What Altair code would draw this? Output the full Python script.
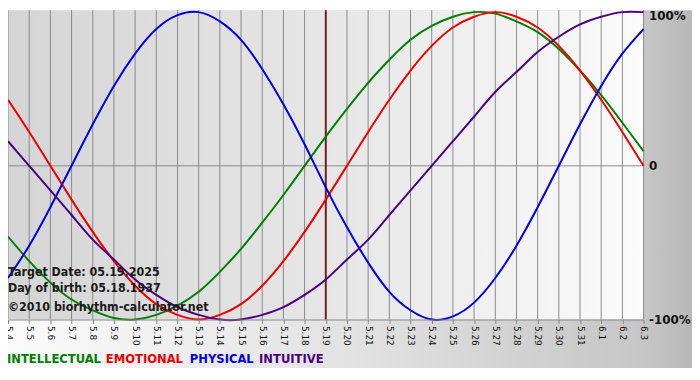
import altair as alt
import pandas as pd

# ---- data ----
dates = ["5.4", "5.5", "5.6", "5.7", "5.8", "5.9", "5.10", "5.11", "5.12", "5.13",
         "5.14", "5.15", "5.16", "5.17", "5.18", "5.19", "5.20", "5.21", "5.22", "5.23",
         "5.24", "5.25", "5.26", "5.27", "5.28", "5.29", "5.30", "5.31", "6.1", "6.2", "6.3"]

intellectual = [-46, -62, -76, -87, -94, -99, -100, -97, -91, -82,
                -69, -54, -37, -19, 0, 19, 37, 54, 69, 82,
                91, 97, 100, 99, 94, 87, 76, 62, 46, 28, 9.5]
emotional = [43, 22, 0, -22, -43, -62, -78, -90, -97, -100,
             -97, -90, -78, -62, -43, -22, 0, 22, 43, 62,
             78, 90, 97, 100, 97, 90, 78, 62, 43, 22, 0]
physical = [-73, -52, -27, 0, 27, 52, 73, 89, 98, 100,
            94, 82, 63, 40, 14, -14, -40, -63, -82, -94,
            -100, -98, -89, -73, -52, -27, 0, 27, 52, 73, 89]
intuitive = [16, 0, -16, -32, -48, -61, -74, -84, -92, -97,
             -100, -100, -97, -92, -84, -74, -61, -48, -32, -16,
             0, 16, 32, 48, 61, 74, 84, 92, 97, 100, 100]

series_names = ["INTELLECTUAL", "EMOTIONAL", "PHYSICAL", "INTUITIVE"]
series_colors = ["#008000", "#ee0000", "#0000dd", "#4b0082"]
target_label = "5.19"
y_ticks = [-100, 0, 100]

# ---- build tables ----
rows = []
for name, vals in zip(series_names, [intellectual, emotional, physical, intuitive]):
    for i, v in enumerate(vals):
        rows.append({"day": i, "value": v, "series": name})
df = pd.DataFrame(rows)
grid_df = pd.DataFrame({"day": list(range(len(dates)))})
one = pd.DataFrame({"k": [0]})

W, H = 643, 311
TOP = 2
FONT = "DejaVu Sans Condensed, DejaVu Sans"

label_expr = "[" + ",".join("'" + d + "'" for d in dates) + "][datum.value]"

xscale = alt.Scale(domain=[0, len(dates) - 1], nice=False, zero=False)
yscale = alt.Scale(domain=[-100, 100], nice=False, zero=False)

def x_axis():
    return alt.Axis(values=list(range(len(dates))), labelExpr=label_expr, labelAngle=90,
                    labelFontSize=9, labelFont="DejaVu Sans", labelColor="#111111",
                    tickColor="#888888", tickSize=4, domainColor="#888888", grid=False,
                    title=None, labelPadding=2, zindex=1, labelOverlap=False,
                    labelFlush=False, labelBound=False)

y_axis = alt.Axis(values=y_ticks, orient="right",
                  labelExpr="datum.value == 100 ? '100%' : (datum.value == 0 ? '0' : '-100%')",
                  labelFont="DejaVu Sans", labelFontWeight="bold", labelFontSize=12,
                  labelColor="#111111", ticks=False, domain=False, grid=False,
                  labelBaseline=alt.condition("datum.value == 100", alt.value("top"), alt.value("middle")),
                  labelOffset=alt.condition("datum.value == 100", alt.value(-2), alt.value(0)),
                  title=None, labelPadding=5, zindex=1, labelOverlap=False)

outer_bg = alt.Chart(one).mark_rect(
    fill=alt.Gradient(gradient="linear", x1=0, x2=1, y1=0, y2=0,
                      stops=[alt.GradientStop(color="#fbfbfb", offset=0),
                             alt.GradientStop(color="#e2e2e2", offset=0.5),
                             alt.GradientStop(color="#c6c6c6", offset=0.93),
                             alt.GradientStop(color="#b8b8b8", offset=1)])
).encode(x=alt.value(0), x2=alt.value(W + 49), y=alt.value(-TOP), y2=alt.value(H + 49))

plot_bg = alt.Chart(one).mark_rect(
    fill=alt.Gradient(gradient="linear", x1=0, x2=1, y1=0, y2=0,
                      stops=[alt.GradientStop(color="#d5d5d5", offset=0),
                             alt.GradientStop(color="#e6e6e6", offset=0.5),
                             alt.GradientStop(color="#fbfbfb", offset=1)])
).encode(x=alt.value(0), x2=alt.value(W), y=alt.value(-TOP), y2=alt.value(H))

vgrid = alt.Chart(grid_df).mark_rule(color="#8a8a8a", strokeWidth=1).encode(
    x=alt.X("day:Q", scale=xscale, axis=x_axis()),
    y=alt.value(-TOP), y2=alt.value(H))

zero_line = alt.Chart(one).mark_rule(color="#8a8a8a", strokeWidth=1).encode(
    y=alt.datum(0, scale=yscale, axis=y_axis))

target = alt.Chart(one).mark_rule(color="#7a1e1e", strokeWidth=2).encode(
    x=alt.datum(dates.index(target_label), axis=x_axis()),
    y=alt.value(-TOP), y2=alt.value(H))

lines = alt.Chart(df).mark_line(strokeWidth=2, interpolate="natural").encode(
    x=alt.X("day:Q", axis=x_axis()),
    y=alt.Y("value:Q", axis=y_axis),
    color=alt.Color("series:N", scale=alt.Scale(domain=series_names, range=series_colors),
                    legend=None),
)

def txt(s, x, y, size, color="#1a1a1a"):
    return alt.Chart(one).mark_text(align="left", baseline="middle", font=FONT,
                                    fontWeight="bold", fontSize=size, color=color).encode(
        x=alt.value(x), y=alt.value(y), text=alt.value(s))

annotations = [
    txt("Target Date: 05.19.2025", 0, 263, 12.5),
    txt("Day of birth: 05.18.1937", 0, 279, 12.5),
    txt("\u00a92010 biorhythm-calculator.net", 0, 298, 12.5),
]
legend_x = [-1, 99, 184, 254]
legend = [txt(n, x, 351, 13, c) for n, x, c in zip(series_names, legend_x, series_colors)]

chart = alt.layer(outer_bg, plot_bg, vgrid, zero_line, target, lines,
                  *annotations, *legend).properties(
    width=W, height=H,
    autosize=alt.AutoSizeParams(type="none"),
    padding={"left": 0, "top": TOP, "right": 49, "bottom": 57},
).configure_view(stroke=None).configure(background="white").configure_axis(labelOverlap=False)

chart.save("out.html", embed_options={"renderer": "svg", "actions": False})
